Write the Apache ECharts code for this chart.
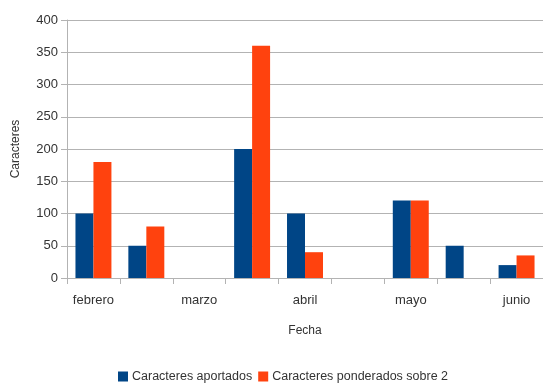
<!DOCTYPE html>
<html><head><meta charset="utf-8">
<script src="https://cdn.jsdelivr.net/npm/echarts@6/dist/echarts.min.js"></script>
<style>html,body{margin:0;padding:0;background:#fff}#c{width:543px;height:385px}</style>
</head><body><div id="c"></div>
<script>
var categories = ['febrero', 'feb-mar', 'marzo', 'mar-abr', 'abril', 'abr-may', 'mayo', 'may-jun', 'junio'];
var aportados = [100, 50, 0, 200, 100, 0, 120, 50, 20];
var ponderados = [180, 80, 0, 360, 40, 0, 120, 0, 35];
var yTicks = [0, 50, 100, 150, 200, 250, 300, 350, 400];

var font = 'Liberation Sans, Arial, sans-serif';
var chart = echarts.init(document.getElementById('c'));
chart.setOption({
  animation: false,
  textStyle: {fontFamily: font},
  grid: {left: 67, right: 0, top: 20, bottom: 107, containLabel: false},
  legend: {
    top: 370, left: 118, padding: 0,
    itemWidth: 10, itemHeight: 10, itemGap: 6,
    icon: 'rect',
    textStyle: {fontFamily: font, fontSize: 12.5, color: '#333', padding: [0,0,0,-1]},
    data: ['Caracteres aportados', 'Caracteres ponderados sobre 2']
  },
  xAxis: {
    type: 'category',
    data: categories,
    name: 'Fecha',
    nameLocation: 'middle',
    nameGap: 47,
    nameTextStyle: {fontFamily: font, fontSize: 12, color: '#333'},
    axisLine: {lineStyle: {color: '#b3b3b3'}},
    axisTick: {show: true, interval: 0, length: 6, alignWithLabel: false, lineStyle: {color: '#b3b3b3'}},
    axisLabel: {interval: 1, margin: 16, fontFamily: font, fontSize: 13, color: '#333'},
    splitLine: {show: false}
  },
  yAxis: {
    type: 'value',
    min: yTicks[0], max: yTicks[yTicks.length - 1], interval: 50,
    name: 'Caracteres',
    nameLocation: 'middle',
    nameGap: 45,
    nameRotate: 90,
    nameTextStyle: {fontFamily: font, fontSize: 12, color: '#333'},
    axisLine: {show: true, lineStyle: {color: '#b3b3b3'}},
    axisTick: {show: true, length: 6, lineStyle: {color: '#b3b3b3'}},
    axisLabel: {margin: 9, fontFamily: font, fontSize: 13, color: '#333'},
    splitLine: {show: true, lineStyle: {color: '#b3b3b3', width: 1}}
  },
  series: [
    {name: 'Caracteres aportados', type: 'bar', data: aportados, barGap: '0%', barCategoryGap: '32%', itemStyle: {color: '#004586'}},
    {name: 'Caracteres ponderados sobre 2', type: 'bar', data: ponderados, barGap: '0%', barCategoryGap: '32%', itemStyle: {color: '#ff420e'}}
  ]
});
</script></body></html>
